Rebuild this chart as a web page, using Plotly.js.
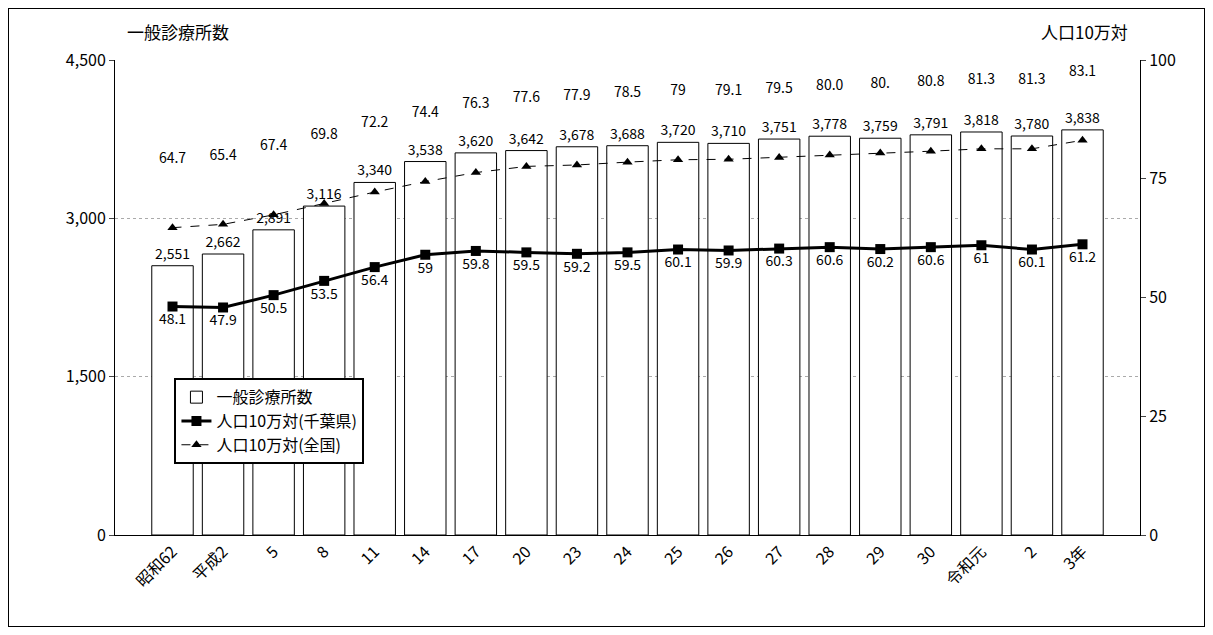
<!DOCTYPE html>
<html><head><meta charset="utf-8">
<script src="https://cdn.plot.ly/plotly-3.0.1.min.js"></script>
<style>body{margin:0;background:#fff}#chart{width:1213px;height:635px;position:relative}
#frame{position:absolute;left:8px;top:8px;width:1195px;height:617px;border:1px solid #000;pointer-events:none}</style>
</head><body><div id="chart"></div><div id="frame"></div>
<script>
const years = ['昭和62', '平成2', '5', '8', '11', '14', '17', '20', '23', '24', '25', '26', '27', '28', '29', '30', '令和元', '2', '3年'];
const clinics = [2551, 2662, 2891, 3116, 3340, 3538, 3620, 3642, 3678, 3688, 3720, 3710, 3751, 3778, 3759, 3791, 3818, 3780, 3838];
const chiba = [48.1, 47.9, 50.5, 53.5, 56.4, 59, 59.8, 59.5, 59.2, 59.5, 60.1, 59.9, 60.3, 60.6, 60.2, 60.6, 61, 60.1, 61.2];
const national = [64.7, 65.4, 67.4, 69.8, 72.2, 74.4, 76.3, 77.6, 77.9, 78.5, 79, 79.1, 79.5, 80.0, 80.4, 80.8, 81.3, 81.3, 83.1];
const nationalLabels = ['64.7', '65.4', '67.4', '69.8', '72.2', '74.4', '76.3', '77.6', '77.9', '78.5', '79', '79.1', '79.5', '80.0', '80.', '80.8', '81.3', '81.3', '83.1'];

const font = {family: '"Noto Sans CJK JP", sans-serif', size: 14, color: '#000'};

const data = [{
    x: years, y: clinics, type: 'bar', name: '一般診療所数',
    marker: {color: '#fff', line: {color: '#000', width: 1}},
    width: 0.82,
    text: clinics.map(v => v.toLocaleString('en-US')),
    textposition: 'outside', cliponaxis: false, constraintext: 'none',
    textfont: font
}, {
    x: years, y: chiba, yaxis: 'y2', type: 'scatter', mode: 'lines+markers+text',
    name: '人口10万対(千葉県)',
    line: {color: '#000', width: 3},
    marker: {symbol: 'square', size: 10, color: '#000'},
    text: chiba.map(String), textposition: 'bottom center',
    textfont: font
}, {
    x: years, y: national, yaxis: 'y2', type: 'scatter', mode: 'lines+markers+text',
    name: '人口10万対(全国)',
    line: {color: '#000', width: 1, dash: 'dash'},
    marker: {symbol: 'triangle-up', size: 9, color: '#000'},
    text: nationalLabels.map(s => s + '<br> <br> <br> '), textposition: 'top center',
    textfont: font, cliponaxis: false
}];

const layout = {
    width: 1213, height: 635,
    margin: {l: 115, r: 73, t: 60, b: 100},
    paper_bgcolor: '#fff', plot_bgcolor: '#fff',
    font: font,
    showlegend: true,
    legend: {x: 0.058, y: 0.33, xanchor: 'left', yanchor: 'top', bgcolor: '#fff',
        bordercolor: '#000', borderwidth: 2, font: {size: 16}},
    xaxis: {type: 'category', tickangle: -45, showline: true, linecolor: '#000', ticks: '', tickfont: {size: 16}},
    yaxis: {range: [0, 4500], tickvals: [0, 1500, 3000, 4500], ticktext: ['0', '1,500', '3,000', '4,500'],
        showline: true, linecolor: '#000', ticks: 'outside', ticklen: 5, tickfont: {size: 16},
        gridcolor: '#aaa', griddash: 'dot', zeroline: false},
    yaxis2: {range: [0, 100], overlaying: 'y', side: 'right', tickvals: [0, 25, 50, 75, 100], tickfont: {size: 16},
        showline: true, linecolor: '#000', ticks: 'outside', ticklen: 5, showgrid: false, zeroline: false},
    annotations: [
        {text: '一般診療所数', xref: 'paper', yref: 'paper', x: 0.01, y: 1.03, xanchor: 'left', yanchor: 'bottom', showarrow: false, font: {size: 17}},
        {text: '人口10万対', xref: 'paper', yref: 'paper', x: 0.99, y: 1.03, xanchor: 'right', yanchor: 'bottom', showarrow: false, font: {size: 17}}
    ]
};

Plotly.newPlot('chart', data, layout, {displayModeBar: false});
</script></body></html>
